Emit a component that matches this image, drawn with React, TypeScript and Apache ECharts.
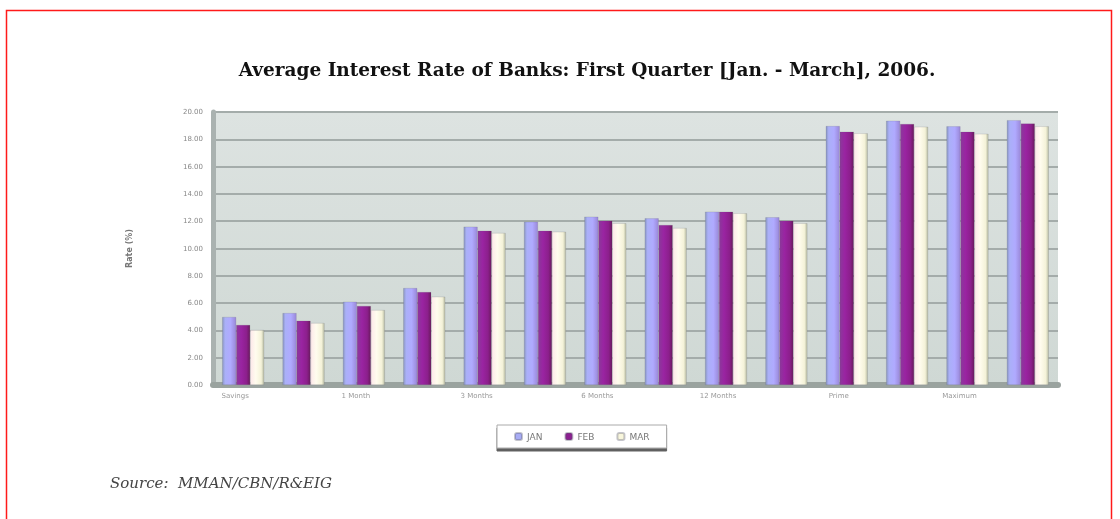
import React, { useEffect, useRef } from "react";
import * as echarts from "echarts";

const categories = [
  "Savings", "7 Days", "1 Month", "2 Months", "3 Months", "4 Months", "6 Months",
  "9 Months", "12 Months", "Over 12", "Prime", "Prime Avg", "Maximum", "Max Avg",
];
const janValues = [4.98, 5.27, 6.1, 7.1, 11.6, 11.96, 12.33, 12.21, 12.7, 12.29, 18.97, 19.36, 18.95, 19.4];
const febValues = [4.4, 4.71, 5.79, 6.81, 11.3, 11.3, 12.04, 11.72, 12.7, 12.04, 18.56, 19.12, 18.55, 19.15];
const marValues = [4.03, 4.54, 5.49, 6.47, 11.14, 11.23, 11.85, 11.5, 12.58, 11.85, 18.44, 18.92, 18.4, 18.95];
const seriesNames = ["JAN", "FEB", "MAR"];
const yTicks = { min: 0, max: 20, interval: 2 };

const titleText = "Average Interest Rate of Banks: First Quarter [Jan. - March], 2006.";
const sourceText = "Source:  MMAN/CBN/R&EIG";

export default function App() {
  const ref = useRef<HTMLDivElement>(null);
  useEffect(() => {
    if (!ref.current) return;
    const chart = echarts.init(ref.current, null, { renderer: "svg" });
    const grad = (stops: [number, string][]) =>
      new echarts.graphic.LinearGradient(0, 0, 1, 0, stops.map(([offset, color]) => ({ offset, color })));
    const colors = [
      grad([[0, "#8a96c0"], [0.2, "#aab0f8"], [0.6, "#b0aaff"], [1, "#9a88d8"]]),
      grad([[0, "#8a3a9a"], [0.35, "#9a24a2"], [0.75, "#8c1f8c"], [1, "#6a1a5e"]]),
      grad([[0, "#fde8ea"], [0.4, "#fffcee"], [0.8, "#f4f2d8"], [1, "#b8bca4"]]),
    ];
    const legendColors = ["#a8acf4", "#8c2090", "#f8f6dc"];
    const data = [janValues, febValues, marValues];
    chart.setOption({
      animation: false,
      title: {
        text: titleText,
        left: 582,
        textAlign: "center",
        top: 55,
        textStyle: { fontFamily: "DejaVu Serif", fontWeight: "bold", fontSize: 18.5, color: "#111" },
      },
      legend: {
        left: 497,
        top: 425,
        itemWidth: 7,
        itemHeight: 7,
        itemGap: 22,
        padding: [7, 17],
        backgroundColor: "#fff",
        borderColor: "#aaa",
        borderWidth: 1,
        shadowColor: "rgba(80,80,80,0.9)",
        shadowOffsetY: 3,
        shadowOffsetX: 0,
        shadowBlur: 0,
        textStyle: { fontSize: 9, color: "#777", fontFamily: "DejaVu Sans" },
        data: seriesNames.map((n, i) => ({ name: n, itemStyle: { color: legendColors[i] } })),
      },
      grid: {
        left: 213,
        top: 112,
        width: 845,
        height: 273,
        show: true,
        backgroundColor: new echarts.graphic.LinearGradient(0, 0, 0, 1, [
          { offset: 0, color: "#dde3e1" },
          { offset: 1, color: "#cfd8d4" },
        ]),
        borderWidth: 0,
      },
      xAxis: {
        type: "category",
        data: categories,
        axisTick: { show: false },
        axisLine: { show: true, lineStyle: { color: "#9aa39f", width: 6 } },
        axisLabel: { interval: 1, fontSize: 7, color: "#999", margin: 7, fontFamily: "DejaVu Sans", padding: [0, 16, 0, 0] },
      },
      yAxis: {
        type: "value",
        min: yTicks.min,
        max: yTicks.max,
        interval: yTicks.interval,
        name: "Rate (%)",
        nameLocation: "middle",
        nameGap: 80,
        nameTextStyle: { fontSize: 8, color: "#777", fontWeight: "bold", fontFamily: "DejaVu Sans" },
        axisLine: { show: true, lineStyle: { color: "#aab2b0", width: 5 } },
        axisTick: { show: false },
        axisLabel: {
          fontSize: 7,
          color: "#888",
          margin: 10,
          fontFamily: "DejaVu Sans",
          formatter: (v: number) => v.toFixed(2),
        },
        splitLine: { show: true, lineStyle: { color: "#a4acaa", width: 2 } },
      },
      series: data.map((d, i) => ({
        name: seriesNames[i],
        type: "bar",
        data: d,
        barWidth: 14,
        barGap: "0%",
        itemStyle: { color: colors[i], borderColor: "rgba(90,90,110,0.35)", borderWidth: 0.5 },
      })),
      graphic: [
        {
          type: "rect",
          shape: { x: 6.5, y: 10.5, width: 1105, height: 700 },
          style: { fill: "none", stroke: "#ff1a1a", lineWidth: 1.5 },
          silent: true,
        },
        {
          type: "text",
          left: 110,
          top: 475,
          style: {
            text: sourceText,
            font: "italic 15px 'DejaVu Serif'",
            fill: "#444",
          },
        },
      ],
    });
    return () => chart.dispose();
  }, []);
  return <div ref={ref} style={{ position: "fixed", left: 0, top: 0, width: 1120, height: 519 }} />;
}
